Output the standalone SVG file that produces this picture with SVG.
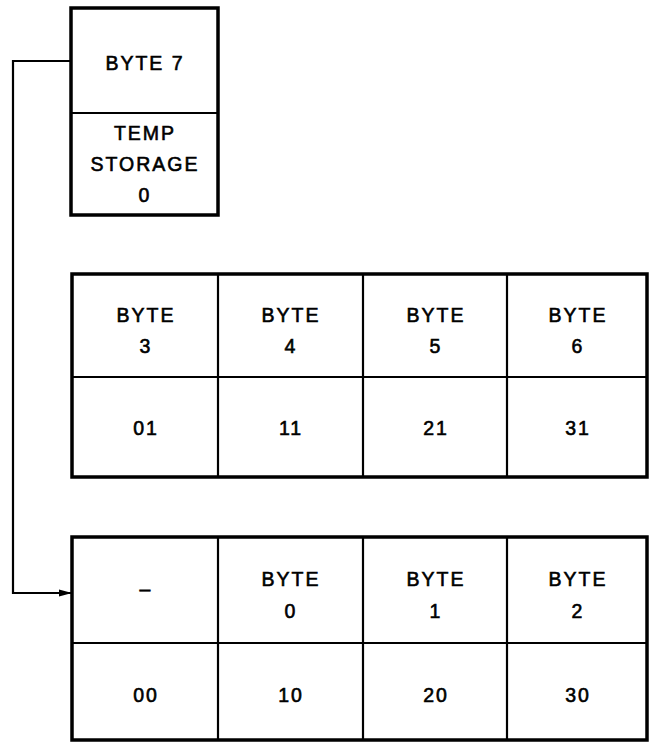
<svg xmlns="http://www.w3.org/2000/svg" width="652" height="744" viewBox="0 0 652 744">
<style>
.outer{fill:#fff;stroke:#000;stroke-width:3.5}
.in{stroke:#000;stroke-width:2.2;fill:none}
.t{font-family:"Liberation Sans",Arial,sans-serif;font-size:19.5px;letter-spacing:2px;text-anchor:middle;fill:#000;stroke:#000;stroke-width:0.6}
.conn{fill:none;stroke:#000;stroke-width:2.2}
</style>
<defs>
<marker id="ah" markerWidth="13" markerHeight="9" refX="12" refY="4.5" orient="auto" markerUnits="userSpaceOnUse">
<path d="M0,1 L13,4.5 L0,8 Z" fill="#000"/>
</marker>
</defs>
<rect width="652" height="744" fill="#fff"/>
<g id="connectors">
<path class="conn" d="M71,61 H13 V593 H71" marker-end="url(#ah)"/>
</g>
<g id="temp-box">
<rect class="outer" x="71" y="8" width="147" height="207"/>
<line class="in" x1="71" y1="113" x2="218" y2="113"/>
<text class="t" x="145" y="70">BYTE 7</text>
<text class="t" x="145" y="140">TEMP</text>
<text class="t" x="145" y="171">STORAGE</text>
<text class="t" x="145" y="202">0</text>
</g>
<g id="row-upper">
<rect class="outer" x="72" y="274" width="575" height="203"/>
<line class="in" x1="72" y1="377" x2="647" y2="377"/>
<line class="in" x1="218" y1="274" x2="218" y2="477"/>
<line class="in" x1="363" y1="274" x2="363" y2="477"/>
<line class="in" x1="507" y1="274" x2="507" y2="477"/>
<text class="t" x="146" y="322">BYTE</text><text class="t" x="146" y="353">3</text>
<text class="t" x="291" y="322">BYTE</text><text class="t" x="291" y="353">4</text>
<text class="t" x="436" y="322">BYTE</text><text class="t" x="436" y="353">5</text>
<text class="t" x="578" y="322">BYTE</text><text class="t" x="578" y="353">6</text>
<text class="t" x="146" y="435">01</text>
<text class="t" x="291" y="435">11</text>
<text class="t" x="436" y="435">21</text>
<text class="t" x="578" y="435">31</text>
</g>
<g id="row-lower">
<rect class="outer" x="72" y="537" width="575" height="203"/>
<line class="in" x1="72" y1="643" x2="647" y2="643"/>
<line class="in" x1="218" y1="537" x2="218" y2="740"/>
<line class="in" x1="363" y1="537" x2="363" y2="740"/>
<line class="in" x1="507" y1="537" x2="507" y2="740"/>
<text class="t" x="146" y="596">–</text>
<text class="t" x="291" y="586">BYTE</text><text class="t" x="291" y="618">0</text>
<text class="t" x="436" y="586">BYTE</text><text class="t" x="436" y="618">1</text>
<text class="t" x="578" y="586">BYTE</text><text class="t" x="578" y="618">2</text>
<text class="t" x="146" y="702">00</text>
<text class="t" x="291" y="702">10</text>
<text class="t" x="436" y="702">20</text>
<text class="t" x="578" y="702">30</text>
</g>
</svg>
